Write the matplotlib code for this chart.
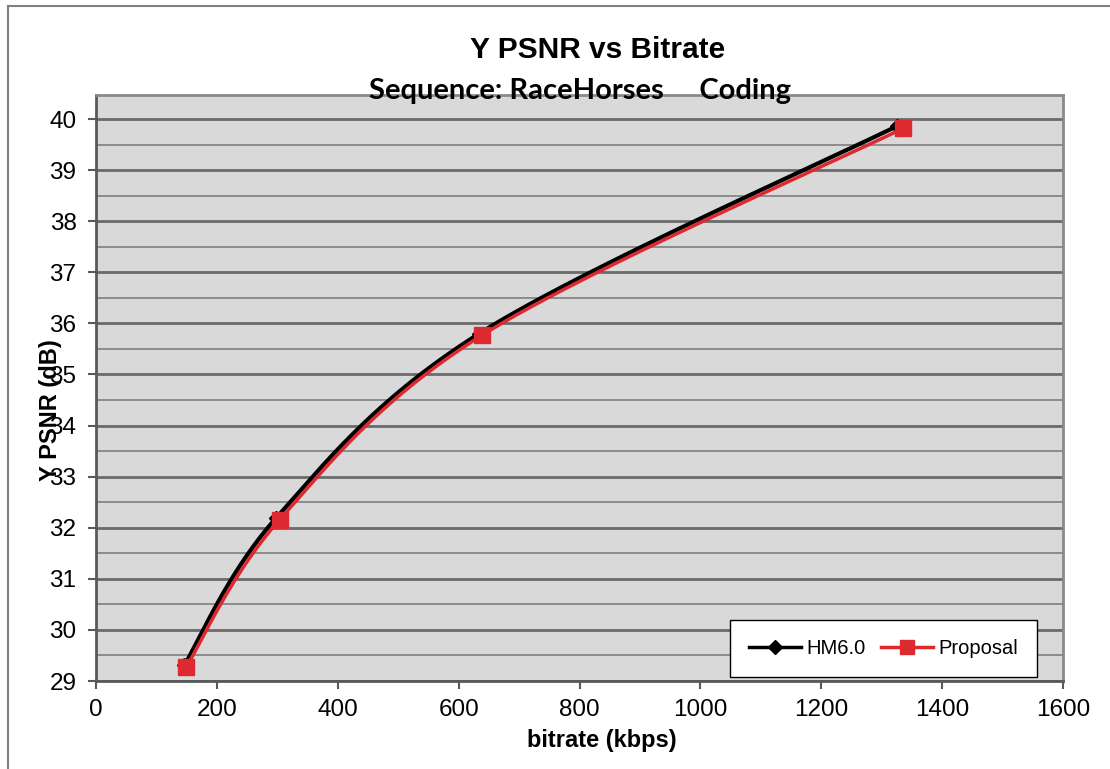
import numpy as np
import matplotlib
matplotlib.use("Agg")
import matplotlib.pyplot as plt
from matplotlib.lines import Line2D
from matplotlib.ticker import MultipleLocator

# Rate-distortion points
hm_bitrate = [146, 298, 634, 1325]
hm_psnr = [29.31, 32.19, 35.80, 39.86]
prop_bitrate = [149, 304, 639, 1336]
prop_psnr = [29.27, 32.16, 35.77, 39.82]

series_names = ["HM6.0", "Proposal"]
x_ticks = [0, 200, 400, 600, 800, 1000, 1200, 1400, 1600]
y_ticks = [29, 30, 31, 32, 33, 34, 35, 36, 37, 38, 39, 40]

XLIM = (0, 1600)
YLIM = (29, 40.47)

plt.rcParams['font.family'] = ['Liberation Sans', 'DejaVu Sans']

fig = plt.figure(figsize=(11.10, 7.69), dpi=100)
fig.patch.set_facecolor("white")

# outer chart frame (left and top edges visible)
fig.add_artist(Line2D([8 / 1110, 8 / 1110], [0, 1 - 6 / 769], transform=fig.transFigure,
                      color="#7f7f7f", lw=1.5))
fig.add_artist(Line2D([8 / 1110, 1], [1 - 6 / 769, 1 - 6 / 769], transform=fig.transFigure,
                      color="#7f7f7f", lw=1.5))

ax = fig.add_axes([96 / 1110, 1 - 681 / 769, (1063 - 96) / 1110, (681 - 95) / 769])
ax.set_facecolor("#d9d9d9")
ax.set_xlim(*XLIM)
ax.set_ylim(*YLIM)


def smooth(xs, ys, n=60):
    """Bezier smoothing through the points, computed in axes-fraction space."""
    px = (np.asarray(xs, float) - XLIM[0]) / (XLIM[1] - XLIM[0])
    py = (np.asarray(ys, float) - YLIM[0]) / (YLIM[1] - YLIM[0]) * (586 / 967)
    P = np.column_stack([px, py])
    m = len(P)
    out = []
    for i in range(m - 1):
        p0 = P[i - 1] if i > 0 else P[i]
        p1 = P[i]
        p2 = P[i + 1]
        p3 = P[i + 2] if i + 2 < m else P[i + 1]
        c1 = p1 + (p2 - p0) / 6.0
        c2 = p2 - (p3 - p1) / 6.0
        t = np.linspace(0, 1, n)[:, None]
        seg = ((1 - t) ** 3) * p1 + 3 * ((1 - t) ** 2) * t * c1 + 3 * (1 - t) * t ** 2 * c2 + t ** 3 * p2
        out.append(seg if i == 0 else seg[1:])
    S = np.vstack(out)
    sx = S[:, 0] * (XLIM[1] - XLIM[0]) + XLIM[0]
    sy = S[:, 1] / (586 / 967) * (YLIM[1] - YLIM[0]) + YLIM[0]
    return sx, sy


# gridlines
ax.yaxis.set_major_locator(MultipleLocator(1))
ax.yaxis.set_minor_locator(MultipleLocator(0.5))
ax.set_yticks(y_ticks)
ax.set_xticks(x_ticks)
ax.grid(axis="y", which="major", color="#6b6b6b", lw=2.0, zorder=0)
ax.grid(axis="y", which="minor", color="#8c8c8c", lw=1.4, zorder=0)
ax.set_axisbelow(True)

black = "#000000"
red = "#dc2a30"

sx, sy = smooth(hm_bitrate, hm_psnr)
ax.plot(sx, sy, color=black, lw=3.0, zorder=3, solid_capstyle="round")
ax.plot(hm_bitrate, hm_psnr, ls="none", marker="D", ms=7, color=black, zorder=4)

sx, sy = smooth(prop_bitrate, prop_psnr)
ax.plot(sx, sy, color=red, lw=2.5, zorder=5, solid_capstyle="round")
ax.plot(prop_bitrate, prop_psnr, ls="none", marker="s", ms=11, color=red, zorder=6)

# spines
for side in ("left", "bottom"):
    ax.spines[side].set_color("#595959")
    ax.spines[side].set_linewidth(2.0)
for side in ("top", "right"):
    ax.spines[side].set_color("#8a8a8a")
    ax.spines[side].set_linewidth(2.0)

ax.tick_params(axis="y", which="major", direction="out", length=6, width=1.5,
               color="#595959", labelsize=17.5, pad=8)
ax.tick_params(axis="y", which="minor", length=0)
ax.tick_params(axis="x", which="major", direction="out", length=6, width=1.5,
               color="#595959", labelsize=17.5, pad=7)
ax.set_yticklabels([str(v) for v in y_ticks])
ax.set_xticklabels([str(v) for v in x_ticks])

# titles and axis labels
fig.text(598 / 1110, 1 - 50 / 769, "Y PSNR vs Bitrate", ha="center", va="center",
         fontsize=21.5, fontweight="bold")
fig.text(580 / 1110, 1 - 91 / 769, "Sequence: RaceHorses     Coding", ha="center", va="center",
         fontsize=21, fontweight="bold", family=["Lato", "DejaVu Sans"])
fig.text(602 / 1110, 1 - 740 / 769, "bitrate (kbps)", ha="center", va="center",
         fontsize=17, fontweight="bold")
fig.text(50 / 1110, 1 - 410 / 769, "Y PSNR (dB)", ha="center", va="center", rotation=90,
         fontsize=17, fontweight="bold")

handles = [
    Line2D([], [], color=black, lw=2.5, marker="D", ms=7),
    Line2D([], [], color=red, lw=2.5, marker="s", ms=10),
]
leg = ax.legend(handles, series_names, ncol=2, loc="lower right",
                bbox_to_anchor=((1037 - 96) / 967, (681 - 677) / 586),
                fontsize=14.5, frameon=True, fancybox=False, edgecolor="black",
                framealpha=1.0, handlelength=2.6, handletextpad=0.25,
                columnspacing=0.75, borderpad=0.95, borderaxespad=0)
leg.get_frame().set_linewidth(1.0)
leg.set_zorder(10)

fig.savefig("out.png", dpi=100)
